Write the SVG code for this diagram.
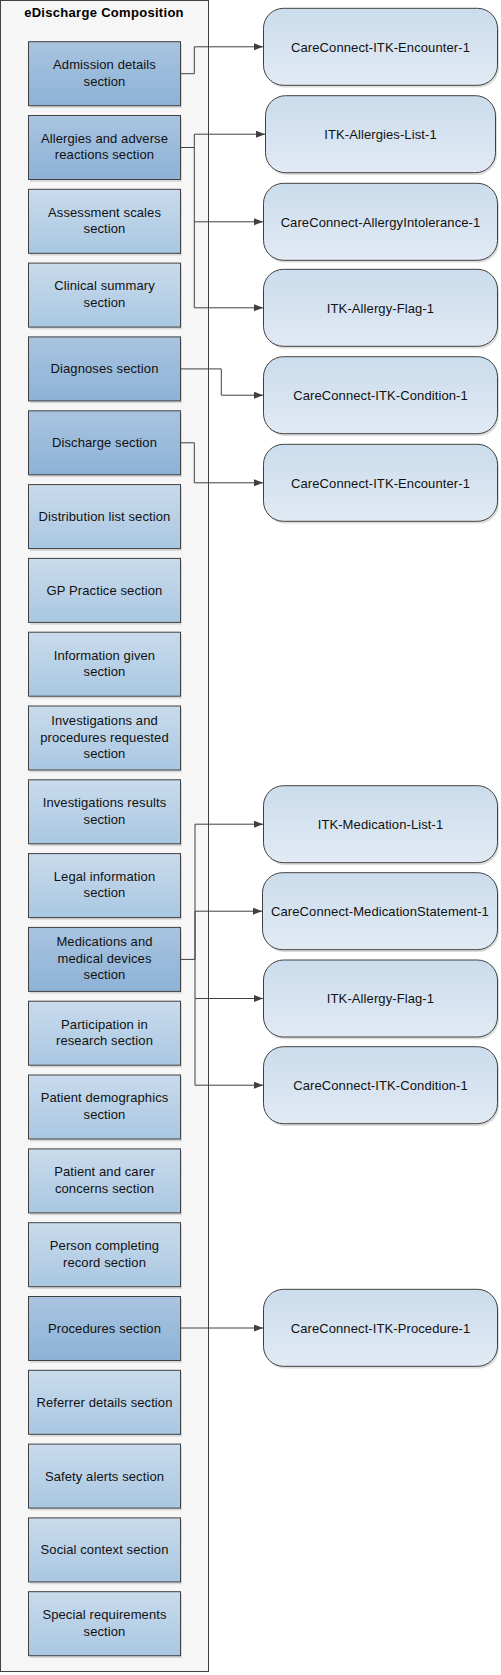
<svg xmlns="http://www.w3.org/2000/svg" width="501" height="1675" viewBox="0 0 501 1675">
<defs>
<linearGradient id="gLight" x1="0" y1="0" x2="0" y2="1"><stop offset="0" stop-color="#c9dbec"/><stop offset="1" stop-color="#a9c7e2"/></linearGradient>
<linearGradient id="gDark" x1="0" y1="0" x2="0" y2="1"><stop offset="0" stop-color="#a9c4e0"/><stop offset="1" stop-color="#8db2d6"/></linearGradient>
<linearGradient id="gTarget" x1="0" y1="0" x2="0" y2="1"><stop offset="0" stop-color="#cbdcec"/><stop offset="1" stop-color="#e1eaf4"/></linearGradient>
<marker id="arr" markerWidth="10" markerHeight="8" refX="9" refY="3.5" orient="auto" markerUnits="userSpaceOnUse"><path d="M0,0 L9,3.5 L0,7 z" fill="#404040"/></marker>
</defs>
<style>
.sec rect.b{stroke:#404040;stroke-width:1}
.sh{fill:#c4c4c4;opacity:0.6}
.l{fill:url(#gLight)}
.d{fill:url(#gDark)}
.t{font-family:"Liberation Sans",Arial,sans-serif;font-size:13px;fill:#111;text-anchor:middle;letter-spacing:0.1px}
.tg rect.b{fill:url(#gTarget);stroke:#404040;stroke-width:1}
.title{font-family:"Liberation Sans",Arial,sans-serif;font-size:13px;font-weight:bold;fill:#000;text-anchor:middle;letter-spacing:0.3px}
.c{fill:none;stroke:#404040;stroke-width:1}
</style>
<g id="container">
<rect x="0.5" y="0.5" width="208" height="1671" fill="#f6f6f6" stroke="#404040" stroke-width="1"/>
<text class="title" x="104" y="17">eDischarge  Composition</text>
</g>
<g id="sections">
<g id="s0" class="sec"><rect class="sh" x="30" y="44" width="152" height="64"/><rect class="b d" x="28.5" y="41.7" width="152" height="64"/><text class="t" x="104.5"><tspan x="104.5" y="69">Admission details</tspan><tspan x="104.5" y="85.5">section</tspan></text></g>
<g id="s1" class="sec"><rect class="sh" x="30" y="117.8" width="152" height="64"/><rect class="b d" x="28.5" y="115.5" width="152" height="64"/><text class="t"><tspan x="104.5" y="142.8">Allergies and adverse</tspan><tspan x="104.5" y="159.3">reactions section</tspan></text></g>
<g id="s2" class="sec"><rect class="sh" x="30" y="191.6" width="152" height="64"/><rect class="b l" x="28.5" y="189.3" width="152" height="64"/><text class="t"><tspan x="104.5" y="216.6">Assessment scales</tspan><tspan x="104.5" y="233.1">section</tspan></text></g>
<g id="s3" class="sec"><rect class="sh" x="30" y="265.4" width="152" height="64"/><rect class="b l" x="28.5" y="263.1" width="152" height="64"/><text class="t"><tspan x="104.5" y="290.4">Clinical summary</tspan><tspan x="104.5" y="306.9">section</tspan></text></g>
<g id="s4" class="sec"><rect class="sh" x="30" y="339.2" width="152" height="64"/><rect class="b d" x="28.5" y="336.9" width="152" height="64"/><text class="t"><tspan x="104.5" y="373.4">Diagnoses section</tspan></text></g>
<g id="s5" class="sec"><rect class="sh" x="30" y="413.1" width="152" height="64"/><rect class="b d" x="28.5" y="410.8" width="152" height="64"/><text class="t"><tspan x="104.5" y="447.3">Discharge section</tspan></text></g>
<g id="s6" class="sec"><rect class="sh" x="30" y="486.9" width="152" height="64"/><rect class="b l" x="28.5" y="484.6" width="152" height="64"/><text class="t"><tspan x="104.5" y="521.1">Distribution list section</tspan></text></g>
<g id="s7" class="sec"><rect class="sh" x="30" y="560.7" width="152" height="64"/><rect class="b l" x="28.5" y="558.4" width="152" height="64"/><text class="t"><tspan x="104.5" y="594.9">GP Practice section</tspan></text></g>
<g id="s8" class="sec"><rect class="sh" x="30" y="634.5" width="152" height="64"/><rect class="b l" x="28.5" y="632.2" width="152" height="64"/><text class="t"><tspan x="104.5" y="659.5">Information given</tspan><tspan x="104.5" y="676">section</tspan></text></g>
<g id="s9" class="sec"><rect class="sh" x="30" y="708.3" width="152" height="64"/><rect class="b l" x="28.5" y="706" width="152" height="64"/><text class="t"><tspan x="104.5" y="725">Investigations and</tspan><tspan x="104.5" y="741.5">procedures requested</tspan><tspan x="104.5" y="758">section</tspan></text></g>
<g id="s10" class="sec"><rect class="sh" x="30" y="782.1" width="152" height="64"/><rect class="b l" x="28.5" y="779.8" width="152" height="64"/><text class="t"><tspan x="104.5" y="807.1">Investigations results</tspan><tspan x="104.5" y="823.6">section</tspan></text></g>
<g id="s11" class="sec"><rect class="sh" x="30" y="855.9" width="152" height="64"/><rect class="b l" x="28.5" y="853.6" width="152" height="64"/><text class="t"><tspan x="104.5" y="880.9">Legal information</tspan><tspan x="104.5" y="897.4">section</tspan></text></g>
<g id="s12" class="sec"><rect class="sh" x="30" y="929.7" width="152" height="64"/><rect class="b d" x="28.5" y="927.4" width="152" height="64"/><text class="t"><tspan x="104.5" y="946.4">Medications and</tspan><tspan x="104.5" y="962.9">medical devices</tspan><tspan x="104.5" y="979.4">section</tspan></text></g>
<g id="s13" class="sec"><rect class="sh" x="30" y="1003.5" width="152" height="64"/><rect class="b l" x="28.5" y="1001.2" width="152" height="64"/><text class="t"><tspan x="104.5" y="1028.5">Participation in</tspan><tspan x="104.5" y="1045">research section</tspan></text></g>
<g id="s14" class="sec"><rect class="sh" x="30" y="1077.3" width="152" height="64"/><rect class="b l" x="28.5" y="1075" width="152" height="64"/><text class="t"><tspan x="104.5" y="1102.3">Patient demographics</tspan><tspan x="104.5" y="1118.8">section</tspan></text></g>
<g id="s15" class="sec"><rect class="sh" x="30" y="1151.2" width="152" height="64"/><rect class="b l" x="28.5" y="1148.9" width="152" height="64"/><text class="t"><tspan x="104.5" y="1176.2">Patient and carer</tspan><tspan x="104.5" y="1192.7">concerns section</tspan></text></g>
<g id="s16" class="sec"><rect class="sh" x="30" y="1225" width="152" height="64"/><rect class="b l" x="28.5" y="1222.7" width="152" height="64"/><text class="t"><tspan x="104.5" y="1250">Person completing</tspan><tspan x="104.5" y="1266.5">record section</tspan></text></g>
<g id="s17" class="sec"><rect class="sh" x="30" y="1298.8" width="152" height="64"/><rect class="b d" x="28.5" y="1296.5" width="152" height="64"/><text class="t"><tspan x="104.5" y="1333">Procedures section</tspan></text></g>
<g id="s18" class="sec"><rect class="sh" x="30" y="1372.6" width="152" height="64"/><rect class="b l" x="28.5" y="1370.3" width="152" height="64"/><text class="t"><tspan x="104.5" y="1406.8">Referrer details section</tspan></text></g>
<g id="s19" class="sec"><rect class="sh" x="30" y="1446.4" width="152" height="64"/><rect class="b l" x="28.5" y="1444.1" width="152" height="64"/><text class="t"><tspan x="104.5" y="1480.6">Safety alerts section</tspan></text></g>
<g id="s20" class="sec"><rect class="sh" x="30" y="1520.2" width="152" height="64"/><rect class="b l" x="28.5" y="1517.9" width="152" height="64"/><text class="t"><tspan x="104.5" y="1554.4">Social context section</tspan></text></g>
<g id="s21" class="sec"><rect class="sh" x="30" y="1594" width="152" height="64"/><rect class="b l" x="28.5" y="1591.7" width="152" height="64"/><text class="t"><tspan x="104.5" y="1619">Special requirements</tspan><tspan x="104.5" y="1635.5">section</tspan></text></g>
</g>
<g id="connectors">
<path class="c" d="M180.5,73.7 H194.3 V46.8 H263" marker-end="url(#arr)"/>
<path class="c" d="M180.5,147.5 H194.3 V134.2 H265" marker-end="url(#arr)"/>
<path class="c" d="M194.3,147.5 V221.8 H263" marker-end="url(#arr)"/>
<path class="c" d="M194.3,221.8 V307.8 H263" marker-end="url(#arr)"/>
<path class="c" d="M180.5,368.9 H221.3 V395.2 H263" marker-end="url(#arr)"/>
<path class="c" d="M180.5,442.8 H194.3 V482.8 H263" marker-end="url(#arr)"/>
<path class="c" d="M180.5,959.4 H195 V824.2 H263" marker-end="url(#arr)"/>
<path class="c" d="M195,959.4 V911.2 H262" marker-end="url(#arr)"/>
<path class="c" d="M195,959.4 V998.5 H263" marker-end="url(#arr)"/>
<path class="c" d="M195,998.5 V1085.2 H263" marker-end="url(#arr)"/>
<path class="c" d="M180.5,1328 H263" marker-end="url(#arr)"/>
</g>
<g id="targets">
<g id="t1" class="tg"><rect class="sh" x="265" y="10.5" width="234" height="77" rx="20"/><rect class="b" x="263.5" y="8.3" width="234" height="77" rx="20"/><text class="t" x="380.5" y="51.5">CareConnect-ITK-Encounter-1</text></g>
<g id="t2" class="tg"><rect class="sh" x="267" y="97.9" width="230" height="77" rx="20"/><rect class="b" x="265.5" y="95.7" width="230" height="77" rx="20"/><text class="t" x="380.5" y="138.9">ITK-Allergies-List-1</text></g>
<g id="t3" class="tg"><rect class="sh" x="265" y="185.5" width="234" height="77" rx="20"/><rect class="b" x="263.5" y="183.3" width="234" height="77" rx="20"/><text class="t" x="380.5" y="226.5">CareConnect-AllergyIntolerance-1</text></g>
<g id="t4" class="tg"><rect class="sh" x="265" y="271.5" width="234" height="77" rx="20"/><rect class="b" x="263.5" y="269.3" width="234" height="77" rx="20"/><text class="t" x="380.5" y="312.5">ITK-Allergy-Flag-1</text></g>
<g id="t5" class="tg"><rect class="sh" x="265" y="358.9" width="234" height="77" rx="20"/><rect class="b" x="263.5" y="356.7" width="234" height="77" rx="20"/><text class="t" x="380.5" y="399.9">CareConnect-ITK-Condition-1</text></g>
<g id="t6" class="tg"><rect class="sh" x="265" y="446.5" width="234" height="77" rx="20"/><rect class="b" x="263.5" y="444.3" width="234" height="77" rx="20"/><text class="t" x="380.5" y="487.5">CareConnect-ITK-Encounter-1</text></g>
<g id="t7" class="tg"><rect class="sh" x="265" y="787.9" width="234" height="77" rx="20"/><rect class="b" x="263.5" y="785.7" width="234" height="77" rx="20"/><text class="t" x="380.5" y="828.9">ITK-Medication-List-1</text></g>
<g id="t8" class="tg"><rect class="sh" x="264" y="874.9" width="235" height="77" rx="20"/><rect class="b" x="262.5" y="872.7" width="235" height="77" rx="20"/><text class="t" x="380" y="915.9">CareConnect-MedicationStatement-1</text></g>
<g id="t9" class="tg"><rect class="sh" x="265" y="962.2" width="234" height="77" rx="20"/><rect class="b" x="263.5" y="960" width="234" height="77" rx="20"/><text class="t" x="380.5" y="1003.2">ITK-Allergy-Flag-1</text></g>
<g id="t10" class="tg"><rect class="sh" x="265" y="1048.9" width="234" height="77" rx="20"/><rect class="b" x="263.5" y="1046.7" width="234" height="77" rx="20"/><text class="t" x="380.5" y="1089.9">CareConnect-ITK-Condition-1</text></g>
<g id="t11" class="tg"><rect class="sh" x="265" y="1291.5" width="234" height="77" rx="20"/><rect class="b" x="263.5" y="1289.3" width="234" height="77" rx="20"/><text class="t" x="380.5" y="1332.5">CareConnect-ITK-Procedure-1</text></g>
</g>
</svg>
